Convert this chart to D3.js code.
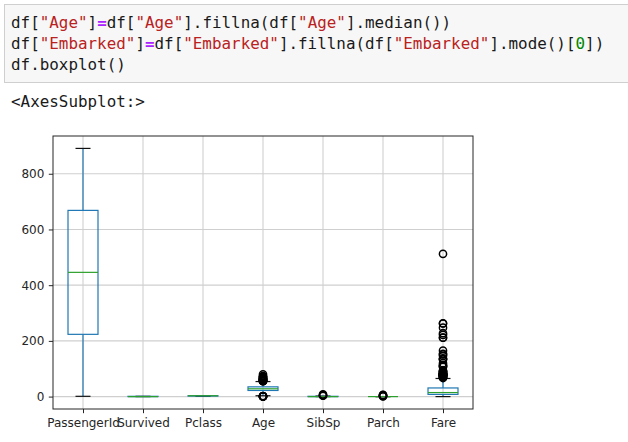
<!DOCTYPE html>
<html><head><meta charset="utf-8">
<script src="https://cdn.jsdelivr.net/npm/d3@7/dist/d3.min.js"></script>
<style>body{margin:0;background:#fff;} svg{display:block}</style>
</head><body><svg id="c" width="628" height="442"></svg>
<script>
// ---- data ----
const categories = ["PassengerId","Survived","Pclass","Age","SibSp","Parch","Fare"];
const q1 =          [223.5, 0, 2, 22, 0, 0, 7.91];
const medians =     [446,   0, 3, 28, 0, 0, 14.45];
const q3 =          [668.5, 1, 3, 35, 1, 0, 31];
const whiskerLow =  [1,     0, 1, 3,  0, 0, 0];
const whiskerHigh = [891,   1, 3, 54, 2, 0, 65];
const ageFliers = [0.42,0.67,0.75,0.83,0.92,1,2,55,55.5,56,57,58,59,60,61,62,63,64,65,66,70,70.5,71,74,80];
const sibspFliers = [3,4,5,8];
const parchFliers = [1,2,3,4,5,6];
const fareFliers = [66.6,69.3,69.55,71,71.28,73.5,75.25,76.29,76.73,77.29,77.96,78.27,78.85,79.2,79.65,80,81.86,82.17,83.16,83.48,86.5,89.1,90,91.08,93.5,106.43,108.9,110.88,113.28,120,133.65,134.5,135.63,146.52,151.55,153.46,164.87,211.34,211.5,221.78,227.53,247.52,262.38,263,512.33];
const fliers = [[], [], [], ageFliers, sibspFliers, parchFliers, fareFliers];
const yTicks = [0,200,400,600,800];

const svg = d3.select("#c");

// ---- code cell ----
const codeLines = [
  [["df[",""],["\"Age\"","s"],["]",""],["=","o"],["df[",""],["\"Age\"","s"],["].fillna(df[",""],["\"Age\"","s"],["].median())",""]],
  [["df[",""],["\"Embarked\"","s"],["]",""],["=","o"],["df[",""],["\"Embarked\"","s"],["].fillna(df[",""],["\"Embarked\"","s"],["].mode()[",""],["0","n"],["])",""]],
  [["df.boxplot()",""]]
];
const tokColor = {"":"#1a1a1a", s:"#ba2121", o:"#aa22ff", n:"#008800"};
svg.append("rect").attr("x",4.5).attr("y",4.5).attr("width",640).attr("height",78)
  .attr("fill","#f7f7f7").attr("stroke","#cfcfcf");
codeLines.forEach((line,i)=>{
  const t = svg.append("text").attr("x",11).attr("y",27.5+i*21)
    .attr("font-family","DejaVu Sans Mono, monospace").attr("font-size",15.9)
    .attr("xml:space","preserve");
  line.forEach(([txt,k])=>{
    t.append("tspan").attr("fill",tokColor[k]).attr("font-weight",k==="o"?"bold":"normal").text(txt);
  });
});
svg.append("text").attr("x",11).attr("y",107)
  .attr("font-family","DejaVu Sans Mono, monospace").attr("font-size",15.9)
  .attr("fill","#1a1a1a").text("<AxesSubplot:>");

// ---- chart ----
const L=53, R=473, T=136, B=409;
const x = d3.scaleLinear().domain([0.5, 7.5]).range([L, R]);
const y = d3.scaleLinear().domain([-44.55, 935.55]).range([B, T]);
const g = svg.append("g");

// grid
g.selectAll(".gx").data(categories).join("line")
  .attr("x1",(d,i)=>x(i+1)).attr("x2",(d,i)=>x(i+1)).attr("y1",T).attr("y2",B)
  .attr("stroke","#cfcfcf").attr("stroke-width",1.1);
g.selectAll(".gy").data(yTicks).join("line")
  .attr("x1",L).attr("x2",R).attr("y1",d=>y(d)).attr("y2",d=>y(d))
  .attr("stroke","#cfcfcf").attr("stroke-width",1.1);

const bw = 0.5, cw = 0.25;
categories.forEach((c,i)=>{
  const p = i+1;
  const bg = g.append("g");
  // whiskers
  [[q1[i], whiskerLow[i]],[q3[i], whiskerHigh[i]]].forEach(([a,b])=>{
    bg.append("line").attr("x1",x(p)).attr("x2",x(p)).attr("y1",y(a)).attr("y2",y(b))
      .attr("stroke","#1f77b4").attr("stroke-width",1.2);
  });
  // caps
  [whiskerLow[i], whiskerHigh[i]].forEach(v=>{
    bg.append("line").attr("x1",x(p-cw/2)).attr("x2",x(p+cw/2)).attr("y1",y(v)).attr("y2",y(v))
      .attr("stroke","#111").attr("stroke-width",1.2);
  });
  // box
  bg.append("rect").attr("x",x(p-bw/2)).attr("width",x(p+bw/2)-x(p-bw/2))
    .attr("y",y(q3[i])).attr("height",Math.max(0,y(q1[i])-y(q3[i])))
    .attr("fill","none").attr("stroke","#1f77b4").attr("stroke-width",1.2);
  // median
  bg.append("line").attr("x1",x(p-bw/2)).attr("x2",x(p+bw/2)).attr("y1",y(medians[i])).attr("y2",y(medians[i]))
    .attr("stroke","#2ca02c").attr("stroke-width",1.2);
  // fliers
  bg.selectAll("circle").data(fliers[i]).join("circle")
    .attr("cx",x(p)).attr("cy",d=>y(d)).attr("r",3.6)
    .attr("fill","none").attr("stroke","#000").attr("stroke-width",1.5);
});

// spines
g.append("rect").attr("x",L).attr("y",T).attr("width",R-L).attr("height",B-T)
  .attr("fill","none").attr("stroke","#262626").attr("stroke-width",1);

// axes
const yAxis = d3.axisLeft(y).tickValues(yTicks).tickSize(4.2).tickPadding(4.5).tickFormat(d3.format("d"));
const ya = svg.append("g").attr("transform",`translate(${L},0)`).call(yAxis);
const xAxis = d3.axisBottom(x).tickValues(d3.range(1,8)).tickSize(4.2).tickPadding(5.5).tickFormat(d=>categories[d-1]);
const xa = svg.append("g").attr("transform",`translate(0,${B})`).call(xAxis);
[ya,xa].forEach(a=>{
  a.select(".domain").remove();
  a.selectAll(".tick line").attr("stroke","#262626").attr("stroke-width",1);
  a.selectAll(".tick text").attr("fill","#262626").attr("font-size",12)
    .attr("font-family","DejaVu Sans, sans-serif");
});
</script></body></html>
